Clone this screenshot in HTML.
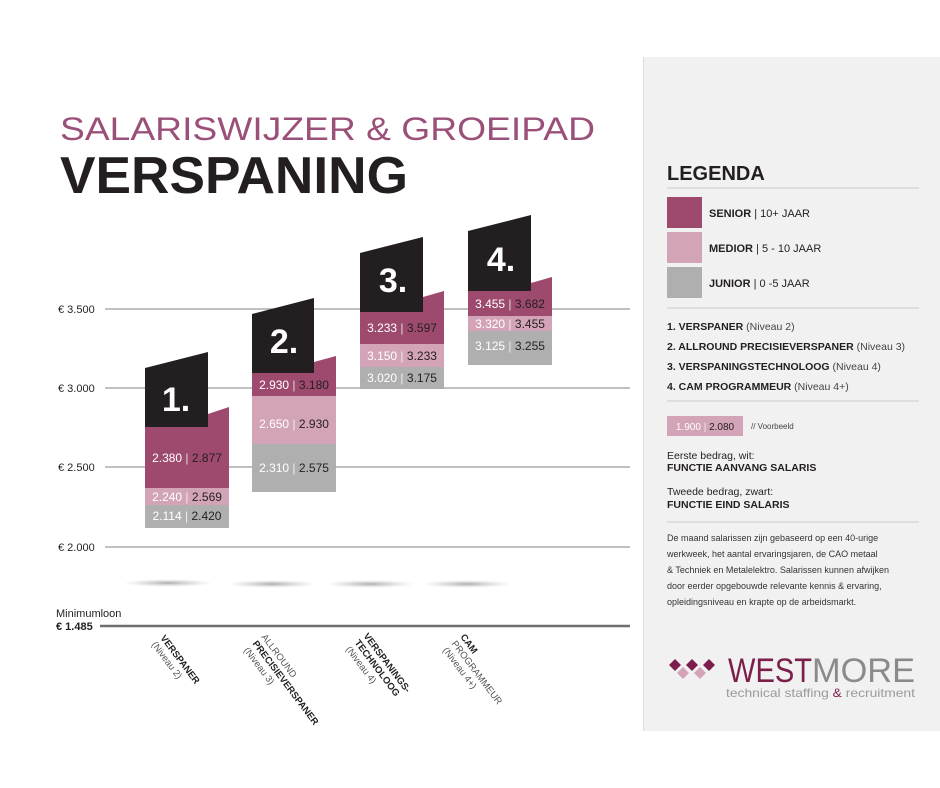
<!DOCTYPE html>
<html><head><meta charset="utf-8"><style>
html,body{margin:0;padding:0;background:#fff;}
svg{display:block;font-family:"Liberation Sans",sans-serif;}
</style></head><body>
<svg width="940" height="788" viewBox="0 0 940 788" xmlns="http://www.w3.org/2000/svg">
<defs>
<radialGradient id="sh" cx="50%" cy="50%" r="50%">
<stop offset="0" stop-color="#888" stop-opacity="0.7"/>
<stop offset="1" stop-color="#bbb" stop-opacity="0"/>
</radialGradient>
</defs>
<rect x="0" y="0" width="940" height="788" fill="#fff"/>
<rect x="643" y="57" width="297" height="674" fill="#f1f1f1"/>
<line x1="643.5" y1="57" x2="643.5" y2="731" stroke="#ddd"/>

<text x="60" y="140" font-size="32" fill="#9b5079" textLength="535" lengthAdjust="spacingAndGlyphs">SALARISWIJZER &amp; GROEIPAD</text>
<text x="60" y="193" font-size="52" font-weight="bold" fill="#231f20" textLength="348" lengthAdjust="spacingAndGlyphs">VERSPANING</text>

<g stroke="#9a9a9a" stroke-width="1.2">
<line x1="105" y1="309" x2="630" y2="309"/>
<line x1="105" y1="388" x2="630" y2="388"/>
<line x1="105" y1="467" x2="630" y2="467"/>
<line x1="105" y1="547" x2="630" y2="547"/>
</g>
<g font-size="11" fill="#231f20">
<text x="58" y="313">€ 3.500</text>
<text x="58" y="392">€ 3.000</text>
<text x="58" y="471">€ 2.500</text>
<text x="58" y="551">€ 2.000</text>
<text x="56" y="617" font-size="11">Minimumloon</text>
<text x="56" y="630" font-size="11" font-weight="bold">€ 1.485</text>
</g>
<line x1="100" y1="626" x2="630" y2="626" stroke="#6f6f6f" stroke-width="2.5"/>

<ellipse cx="168" cy="583" rx="45" ry="4" fill="url(#sh)"/>
<ellipse cx="272" cy="584" rx="45" ry="4" fill="url(#sh)"/>
<ellipse cx="370" cy="584" rx="45" ry="4" fill="url(#sh)"/>
<ellipse cx="467" cy="584" rx="45" ry="4" fill="url(#sh)"/>

<rect x="145" y="505" width="84" height="23" fill="#b0afb0"/>
<rect x="145" y="488" width="84" height="17" fill="#d3a3b7"/>
<polygon points="145,427 145,488 229,488 229,407 208,414 208,427" fill="#9e4a6e"/>
<polygon points="145,368 208,352 208,427 145,427" fill="#231f20"/>
<text x="176" y="411" font-size="34" font-weight="bold" fill="#fff" text-anchor="middle">1.</text>
<rect x="252" y="444" width="84" height="48" fill="#b0afb0"/>
<rect x="252" y="396" width="84" height="48" fill="#d3a3b7"/>
<polygon points="252,373 252,396 336,396 336,356 314,362 314,373" fill="#9e4a6e"/>
<polygon points="252,314 314,298 314,373 252,373" fill="#231f20"/>
<text x="284" y="353" font-size="34" font-weight="bold" fill="#fff" text-anchor="middle">2.</text>
<rect x="360" y="367" width="84" height="22" fill="#b0afb0"/>
<rect x="360" y="344" width="84" height="23" fill="#d3a3b7"/>
<polygon points="360,312 360,344 444,344 444,291 423,297 423,312" fill="#9e4a6e"/>
<polygon points="360,253 423,237 423,312 360,312" fill="#231f20"/>
<text x="393" y="292" font-size="34" font-weight="bold" fill="#fff" text-anchor="middle">3.</text>
<rect x="468" y="331" width="84" height="34" fill="#b0afb0"/>
<rect x="468" y="316" width="84" height="15" fill="#d3a3b7"/>
<polygon points="468,291 468,316 552,316 552,277 531,283 531,291" fill="#9e4a6e"/>
<polygon points="468,231 531,215 531,291 468,291" fill="#231f20"/>
<text x="501" y="271" font-size="34" font-weight="bold" fill="#fff" text-anchor="middle">4.</text>

<g font-size="12">
<text x="187" y="462" text-anchor="middle"><tspan fill="#fff">2.380</tspan><tspan fill="#ddd"> | </tspan><tspan fill="#231f20">2.877</tspan></text>
<text x="187" y="501" text-anchor="middle"><tspan fill="#fff">2.240</tspan><tspan fill="#eee"> | </tspan><tspan fill="#231f20">2.569</tspan></text>
<text x="187" y="520" text-anchor="middle"><tspan fill="#fff">2.114</tspan><tspan fill="#eee"> | </tspan><tspan fill="#231f20">2.420</tspan></text>
<text x="294" y="389" text-anchor="middle"><tspan fill="#fff">2.930</tspan><tspan fill="#ddd"> | </tspan><tspan fill="#231f20">3.180</tspan></text>
<text x="294" y="428" text-anchor="middle"><tspan fill="#fff">2.650</tspan><tspan fill="#eee"> | </tspan><tspan fill="#231f20">2.930</tspan></text>
<text x="294" y="472" text-anchor="middle"><tspan fill="#fff">2.310</tspan><tspan fill="#eee"> | </tspan><tspan fill="#231f20">2.575</tspan></text>
<text x="402" y="332" text-anchor="middle"><tspan fill="#fff">3.233</tspan><tspan fill="#ddd"> | </tspan><tspan fill="#231f20">3.597</tspan></text>
<text x="402" y="360" text-anchor="middle"><tspan fill="#fff">3.150</tspan><tspan fill="#eee"> | </tspan><tspan fill="#231f20">3.233</tspan></text>
<text x="402" y="382" text-anchor="middle"><tspan fill="#fff">3.020</tspan><tspan fill="#eee"> | </tspan><tspan fill="#231f20">3.175</tspan></text>
<text x="510" y="308" text-anchor="middle"><tspan fill="#fff">3.455</tspan><tspan fill="#ddd"> | </tspan><tspan fill="#231f20">3.682</tspan></text>
<text x="510" y="328" text-anchor="middle"><tspan fill="#fff">3.320</tspan><tspan fill="#eee"> | </tspan><tspan fill="#231f20">3.455</tspan></text>
<text x="510" y="350" text-anchor="middle"><tspan fill="#fff">3.125</tspan><tspan fill="#eee"> | </tspan><tspan fill="#231f20">3.255</tspan></text>
</g>

<g font-size="9.5" fill="#231f20">
<g transform="translate(160,638) rotate(53)"><text font-weight="bold">VERSPANER</text><text y="11" fill="#555">(Niveau 2)</text></g>
<g transform="translate(261,637) rotate(53)"><text fill="#555">ALLROUND</text><text y="11" font-weight="bold">PRECISIEVERSPANER</text><text y="22" fill="#555">(Niveau 3)</text></g>
<g transform="translate(363,636) rotate(53)"><text font-weight="bold">VERSPANINGS-</text><text y="11" font-weight="bold">TECHNOLOOG</text><text y="22" fill="#555">(Niveau 4)</text></g>
<g transform="translate(460,637) rotate(53)"><text font-weight="bold">CAM</text><text y="11" fill="#555">PROGRAMMEUR</text><text y="22" fill="#555">(Niveau 4+)</text></g>
</g>

<text x="667" y="180" font-size="20" font-weight="bold" fill="#231f20">LEGENDA</text>
<line x1="667" y1="188" x2="919" y2="188" stroke="#ccc"/>
<rect x="667" y="197" width="35" height="31" fill="#9e4a6e"/>
<rect x="667" y="232" width="35" height="31" fill="#d3a3b7"/>
<rect x="667" y="267" width="35" height="31" fill="#b0afb0"/>
<g font-size="11" fill="#231f20">
<text x="709" y="217"><tspan font-weight="bold">SENIOR</tspan> | 10+ JAAR</text>
<text x="709" y="252"><tspan font-weight="bold">MEDIOR</tspan> | 5 - 10 JAAR</text>
<text x="709" y="287"><tspan font-weight="bold">JUNIOR</tspan> | 0 -5 JAAR</text>
</g>
<line x1="667" y1="308" x2="919" y2="308" stroke="#ccc"/>
<g font-size="10.5" fill="#231f20">
<text x="667" y="330"><tspan font-weight="bold">1.  VERSPANER</tspan><tspan fill="#444"> (Niveau 2)</tspan></text>
<text x="667" y="350"><tspan font-weight="bold">2.  ALLROUND PRECISIEVERSPANER</tspan><tspan fill="#444"> (Niveau 3)</tspan></text>
<text x="667" y="370"><tspan font-weight="bold">3.  VERSPANINGSTECHNOLOOG</tspan><tspan fill="#444"> (Niveau 4)</tspan></text>
<text x="667" y="390"><tspan font-weight="bold">4.  CAM PROGRAMMEUR</tspan><tspan fill="#444"> (Niveau 4+)</tspan></text>
</g>
<line x1="667" y1="401" x2="919" y2="401" stroke="#ccc"/>
<rect x="667" y="416" width="76" height="20" fill="#d3a3b7"/>
<text x="705" y="430" font-size="10" text-anchor="middle"><tspan fill="#fff">1.900</tspan><tspan fill="#eee"> | </tspan><tspan fill="#231f20">2.080</tspan></text>
<text x="751" y="429" font-size="8" fill="#444">// Voorbeeld</text>
<g font-size="10.5" fill="#231f20">
<text x="667" y="459">Eerste bedrag, wit:</text>
<text x="667" y="471" font-weight="bold">FUNCTIE AANVANG SALARIS</text>
<text x="667" y="495">Tweede bedrag, zwart:</text>
<text x="667" y="508" font-weight="bold">FUNCTIE EIND SALARIS</text>
</g>
<line x1="667" y1="522" x2="919" y2="522" stroke="#ccc"/>
<g font-size="9" fill="#333">
<text x="667" y="541">De maand salarissen zijn gebaseerd op een 40-urige</text>
<text x="667" y="557">werkweek, het aantal ervaringsjaren, de CAO metaal</text>
<text x="667" y="573">&amp; Techniek en Metalelektro. Salarissen kunnen afwijken</text>
<text x="667" y="589">door eerder opgebouwde relevante kennis &amp; ervaring,</text>
<text x="667" y="605">opleidingsniveau en krapte op de arbeidsmarkt.</text>
</g>

<g>
<polygon points="675,659 681,665 675,671 669,665" fill="#7b1e4a"/>
<polygon points="692,659 698,665 692,671 686,665" fill="#7b1e4a"/>
<polygon points="709,659 715,665 709,671 703,665" fill="#7b1e4a"/>
<polygon points="683,667 689,673 683,679 677,673" fill="#d3a3b7"/>
<polygon points="700,667 706,673 700,679 694,673" fill="#d3a3b7"/>
</g>
<text x="728" y="682" font-size="34" fill="#7b1e4a" textLength="84" lengthAdjust="spacingAndGlyphs">WEST</text>
<text x="812" y="682" font-size="34" fill="#8a8a8a" textLength="103" lengthAdjust="spacingAndGlyphs">MORE</text>
<text x="726" y="697" font-size="12" fill="#9a9a9a" textLength="189" lengthAdjust="spacingAndGlyphs">technical staffing <tspan fill="#7b1e4a">&amp;</tspan> recruitment</text>
</svg>
</body></html>
